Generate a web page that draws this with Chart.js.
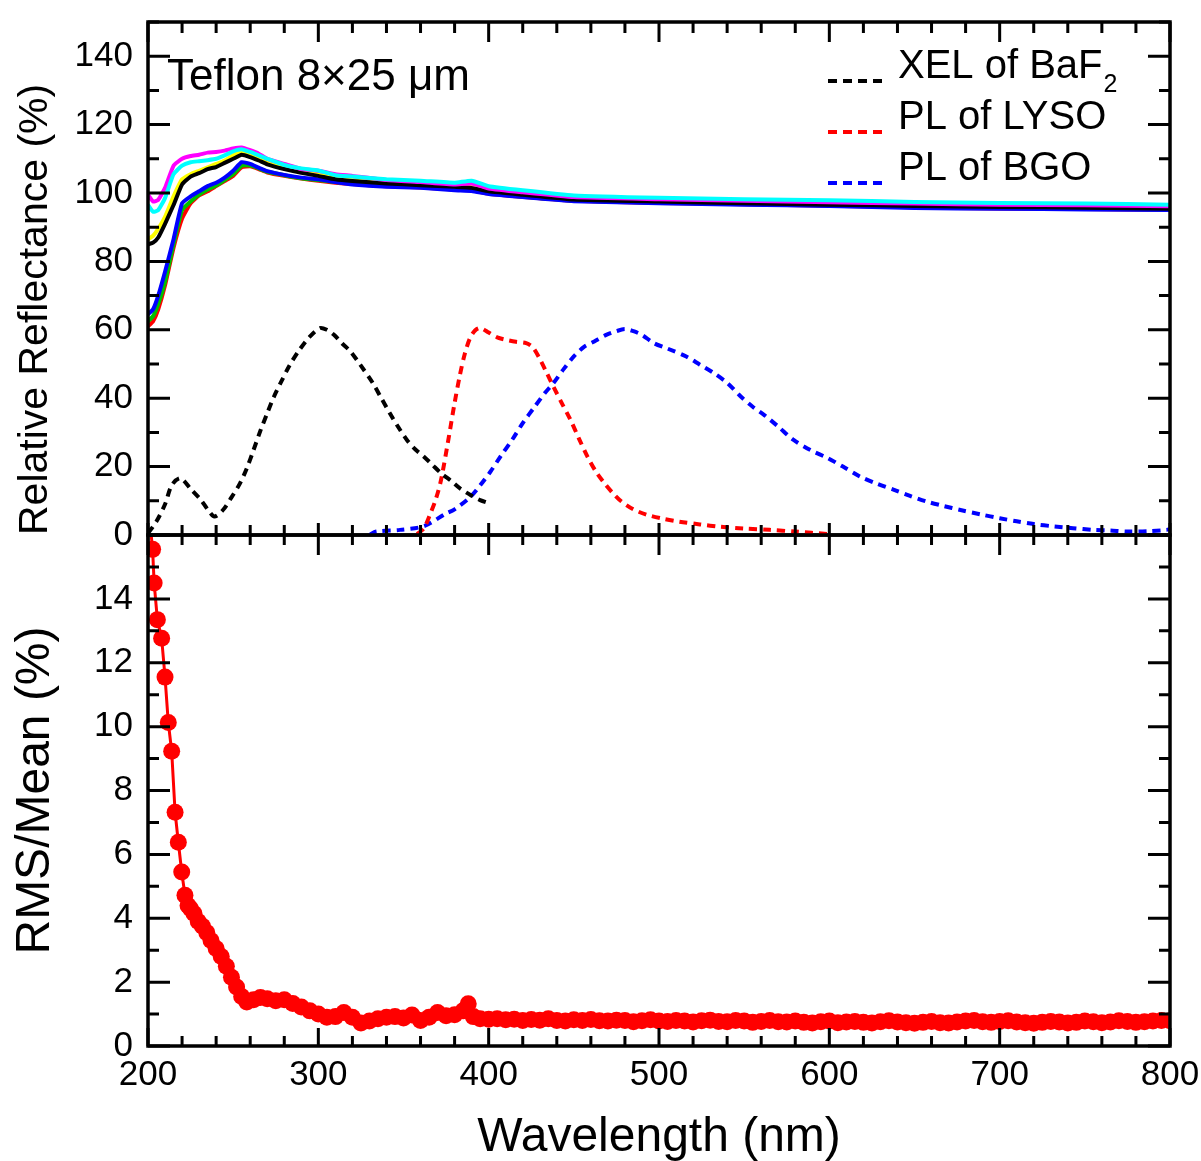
<!DOCTYPE html>
<html>
<head>
<meta charset="utf-8">
<script src="https://cdn.jsdelivr.net/npm/chart.js@4.4.1/dist/chart.umd.min.js"></script>
<style>
  body { margin: 0; background: #fff; }
  #wrap { position: relative; width: 1201px; height: 1161px; }
  #wrap canvas { position: absolute; left: 0; top: 0; }
</style>
</head>
<body>
<div id="wrap">
  <canvas id="rmsChart" width="1201" height="1161"></canvas>
  <canvas id="reflChart" width="1201" height="1161"></canvas>
</div>
<script>
// Tick labels
const xTicks = [200, 300, 400, 500, 600, 700, 800];
const reflTicks = [0, 20, 40, 60, 80, 100, 120, 140];
const rmsTicks = [0, 2, 4, 6, 8, 10, 12, 14];

// Reflectance curves (top panel), wavelength in nm
const reflWl = [200, 203, 206, 210, 215, 220, 225, 230, 235, 240, 245, 250, 255, 260, 265, 270, 280, 290, 300, 310, 320, 340, 360, 380, 390, 400, 420, 450, 500, 550, 600, 650, 700, 750, 800];
const reflCyan    = [96.5, 94.5, 95.0, 98.5, 105.5, 108.0, 109.0, 109.3, 109.6, 110.0, 111.0, 112.2, 112.8, 112.0, 111.0, 110.0, 108.2, 107.2, 106.6, 105.2, 104.8, 104.0, 103.6, 103.0, 103.6, 102.0, 100.8, 99.3, 98.6, 98.2, 97.9, 97.4, 97.1, 96.9, 96.6];
const reflMagenta = [99.5, 97.5, 98.0, 101.5, 108.0, 110.0, 110.8, 111.2, 111.8, 112.0, 112.4, 113.0, 113.3, 112.5, 111.5, 110.0, 108.5, 107.0, 106.5, 105.5, 105.0, 103.8, 103.2, 102.5, 102.8, 101.3, 100.2, 98.8, 98.2, 97.7, 97.3, 96.9, 96.6, 96.4, 96.1];
const reflYellow  = [86.5, 87.5, 89.5, 93.0, 99.0, 104.0, 105.5, 106.5, 107.5, 108.5, 109.5, 111.0, 112.0, 111.2, 110.2, 109.0, 107.5, 106.5, 105.8, 105.0, 104.5, 103.5, 103.0, 102.5, 102.6, 101.0, 100.0, 98.5, 97.9, 97.4, 97.1, 96.7, 96.4, 96.2, 95.9];
const reflBlack   = [85.0, 85.5, 87.0, 91.0, 96.5, 102.5, 104.8, 105.8, 107.0, 107.6, 108.8, 110.0, 111.2, 110.5, 109.5, 108.4, 107.0, 105.9, 105.0, 104.0, 103.5, 102.8, 102.3, 101.8, 101.5, 100.5, 99.5, 98.1, 97.5, 97.0, 96.6, 96.2, 95.9, 95.7, 95.4];
const reflGreen   = [62.5, 64.0, 67.5, 74.0, 85.0, 95.0, 97.5, 99.5, 101.0, 102.2, 103.8, 105.5, 108.0, 108.0, 107.2, 106.2, 105.2, 104.3, 103.8, 103.2, 102.8, 102.2, 101.8, 101.2, 101.0, 100.0, 99.0, 97.8, 97.2, 96.8, 96.4, 96.0, 95.7, 95.4, 95.2];
const reflBlue    = [64.5, 66.0, 70.0, 77.0, 86.5, 97.0, 99.0, 100.5, 102.0, 103.0, 104.5, 106.5, 109.0, 108.5, 107.4, 106.4, 105.3, 104.5, 104.0, 103.2, 102.5, 101.8, 101.5, 100.8, 100.6, 99.7, 98.8, 97.6, 97.0, 96.6, 96.2, 95.6, 95.4, 95.2, 95.0];
const reflRed     = [61.0, 62.5, 66.0, 73.0, 84.0, 92.5, 97.0, 99.3, 100.5, 102.0, 103.5, 105.0, 107.5, 107.8, 107.0, 106.0, 105.0, 104.2, 103.6, 103.0, 102.6, 102.0, 101.6, 101.0, 100.8, 99.8, 98.9, 97.7, 97.1, 96.7, 96.3, 95.8, 95.5, 95.3, 95.1];

// Emission spectra (normalised to ~60), dashed
const bafWl  = [200, 205, 210, 214, 219, 225, 231, 235, 239, 244, 249, 254, 258, 262, 266, 270, 274, 278, 283, 289, 295, 301, 305, 309, 314, 319, 325, 332, 337, 342, 347, 352, 357, 362, 367, 372, 378, 383, 390, 395, 400];
const bafVal = [0.5, 4.0, 9.0, 14.6, 16.6, 13.5, 10.3, 7.5, 5.4, 7.3, 11.0, 15.1, 19.5, 24.9, 30.5, 35.6, 40.5, 44.6, 49.5, 54.2, 58.0, 60.5, 60.0, 58.6, 56.0, 53.6, 49.5, 44.4, 40.0, 35.6, 31.5, 27.8, 25.0, 22.9, 20.5, 18.1, 15.8, 13.7, 11.5, 10.2, 9.3];
const lysoWl  = [358, 362, 366, 369, 372, 376, 380, 383, 386, 389, 392, 395, 400, 405, 410, 416, 422, 426, 430, 434, 438, 443, 448, 453, 458, 463, 468, 473, 478, 485, 493, 502, 512, 524, 536, 550, 565, 580, 599];
const lysoVal = [0.3, 2.0, 6.5, 10.5, 16.0, 26.9, 38.6, 46.5, 53.0, 57.5, 59.8, 60.5, 59.2, 57.8, 57.1, 56.5, 56.1, 54.8, 51.5, 47.5, 43.4, 38.5, 33.7, 28.2, 22.9, 18.5, 15.1, 12.2, 9.8, 7.5, 5.9, 4.8, 3.9, 3.1, 2.4, 1.9, 1.5, 1.0, 0.3];
const bgoWl  = [330, 334, 348, 362, 375, 380, 389, 395, 401, 407, 414, 420, 427, 433, 438, 444, 450, 456, 462, 469, 475, 480, 485, 490, 497, 505, 516, 524, 532, 540, 548, 555, 562, 570, 579, 589, 599, 608, 618, 628, 638, 647, 657, 667, 677, 689, 700, 710, 720, 732, 743, 755, 765, 775, 787, 798, 800];
const bgoVal = [0.0, 1.0, 1.5, 2.6, 6.3, 7.5, 11.0, 14.5, 18.5, 23.0, 28.0, 32.7, 37.5, 41.5, 44.4, 48.5, 52.2, 55.0, 56.6, 58.5, 59.6, 60.2, 59.6, 58.5, 56.1, 54.5, 52.2, 49.8, 47.4, 44.5, 40.5, 37.5, 35.0, 31.7, 27.8, 24.8, 22.5, 20.0, 17.1, 15.0, 13.2, 11.5, 9.8, 8.5, 7.3, 6.0, 4.9, 4.0, 3.2, 2.5, 2.0, 1.5, 1.3, 1.0, 1.1, 1.5, 1.7];

// RMS/Mean (bottom panel)
const rmsWl = [201.5, 202.7, 203.6, 205.5, 208, 210, 211.9, 213.9, 215.9, 217.8, 219.8, 221.7, 223.5, 225, 227, 229.5, 232, 234.5, 237, 240, 243, 246, 249, 252, 255, 258, 262, 266, 270, 275, 280, 285, 290, 295, 300, 305, 310, 315, 320, 325, 330, 335, 340, 345, 350, 355, 360, 365, 370, 375, 380, 385, 388, 391, 395, 400,
  405, 410, 415, 420, 425, 430, 435, 440, 445, 450, 455, 460, 465, 470, 475, 480, 485, 490, 495, 500,
  505, 510, 515, 520, 525, 530, 535, 540, 545, 550, 555, 560, 565, 570, 575, 580, 585, 590, 595, 600,
  605, 610, 615, 620, 625, 630, 635, 640, 645, 650, 655, 660, 665, 670, 675, 680, 685, 690, 695, 700,
  705, 710, 715, 720, 725, 730, 735, 740, 745, 750, 755, 760, 765, 770, 775, 780, 785, 790, 795, 800];
const rmsVal = [16.2, 15.55, 14.5, 13.35, 12.77, 11.55, 10.13, 9.23, 7.32, 6.38, 5.45, 4.72, 4.4, 4.3, 4.15, 3.9, 3.75, 3.55, 3.3, 3.05, 2.8, 2.5, 2.15, 1.85, 1.55, 1.38, 1.45, 1.52, 1.48, 1.42, 1.45, 1.33, 1.22, 1.1, 1.0, 0.9, 0.92, 1.05, 0.9, 0.72, 0.78, 0.85, 0.9, 0.92, 0.88, 0.97, 0.8, 0.9, 1.05, 0.95, 0.98, 1.1, 1.32, 0.92, 0.85, 0.84,
  0.85, 0.82, 0.84, 0.80, 0.83, 0.81, 0.85, 0.80, 0.78, 0.82, 0.80, 0.83, 0.79, 0.78, 0.81, 0.80, 0.76, 0.79, 0.82, 0.78,
  0.77, 0.80, 0.78, 0.75, 0.79, 0.81, 0.77, 0.76, 0.80, 0.78, 0.74, 0.77, 0.80, 0.76, 0.75, 0.78, 0.74, 0.72, 0.76, 0.78,
  0.73, 0.75, 0.77, 0.74, 0.72, 0.76, 0.79, 0.75, 0.73, 0.71, 0.74, 0.77, 0.73, 0.72, 0.75, 0.78, 0.80, 0.76, 0.74, 0.77,
  0.79, 0.75, 0.73, 0.71, 0.74, 0.77, 0.75, 0.72, 0.74, 0.78, 0.76, 0.73, 0.75, 0.79, 0.77, 0.74, 0.76, 0.78, 0.80, 0.79];

const FONT = "'Liberation Sans', Arial, sans-serif";

function pts(xs, ys) {
    return xs.map((x, i) => ({ x: x, y: ys[i] }));
}

// Achsen fest einstellen, damit der Plotbereich genau sitzt
function fixWidth(w) {
    return function(s) { s.width = w; s.paddingTop = 0; s.paddingBottom = 0; };
}
function fixHeight(h) {
    return function(s) { s.height = h; s.paddingLeft = 0; s.paddingRight = 0; };
}
function useTicks(values) {
    return function(s) { s.ticks = values.map(v => ({ value: v })); };
}

// Rahmen und nach innen zeigende Ticks (Haupt- und Nebenticks)
const frameTicks = {
    id: 'frameTicks',
    afterDraw(chart, args, o) {
        const { ctx, chartArea: a, scales } = chart;
        const sx = scales.x, sy = scales.y;
        ctx.save();
        ctx.strokeStyle = '#000';
        ctx.lineWidth = 3;
        ctx.beginPath();
        for (let v = sx.min; v <= sx.max + 1e-6; v += o.xMinor) {
            const px = sx.getPixelForValue(v);
            const major = Math.abs(v / o.xMajor - Math.round(v / o.xMajor)) < 1e-6;
            const t = major ? o.topLen[1] : o.topLen[0];
            const b = major ? o.bottomLen[1] : o.bottomLen[0];
            ctx.moveTo(px, a.top); ctx.lineTo(px, a.top + t);
            ctx.moveTo(px, a.bottom); ctx.lineTo(px, a.bottom - b);
        }
        for (let v = sy.min; v <= sy.max + 1e-6; v += o.yMinor) {
            const py = sy.getPixelForValue(v);
            const major = Math.abs(v / o.yMajor - Math.round(v / o.yMajor)) < 1e-6;
            const l = major ? o.sideLen[1] : o.sideLen[0];
            ctx.moveTo(a.left, py); ctx.lineTo(a.left + l, py);
            ctx.moveTo(a.right, py); ctx.lineTo(a.right - l, py);
        }
        ctx.stroke();
        ctx.lineWidth = 3.5;
        ctx.strokeRect(a.left, a.top, a.right - a.left, a.bottom - a.top);
        ctx.restore();
    }
};

// Beschriftung im Plot: Probenname und Legende der Emissionsspektren
const panelText = {
    id: 'panelText',
    afterDraw(chart) {
        const ctx = chart.ctx;
        ctx.save();
        ctx.fillStyle = '#000';
        ctx.font = '44px ' + FONT;
        ctx.textBaseline = 'alphabetic';
        ctx.textAlign = 'left';
        ctx.fillText('Teflon 8\u00d725 \u03bcm', 167, 90);

        const rows = chart.data.datasets.filter(d => d.legendText);
        rows.forEach((d, i) => {
            const base = 78 + i * 51;
            ctx.save();
            ctx.strokeStyle = d.borderColor;
            ctx.lineWidth = 4;
            ctx.setLineDash([9, 6]);
            ctx.beginPath();
            ctx.moveTo(828, base + 3);
            ctx.lineTo(882, base + 3);
            ctx.stroke();
            ctx.restore();
            ctx.font = '40px ' + FONT;
            ctx.fillText(d.legendText, 898, base);
            if (d.legendSub) {
                const w = ctx.measureText(d.legendText).width;
                ctx.font = '25px ' + FONT;
                ctx.fillText(d.legendSub, 898 + w + 1, base + 14);
            }
        });
        ctx.restore();
    }
};

function solid(label, color, ys) {
    return {
        label: label,
        data: pts(reflWl, ys),
        borderColor: color,
        borderWidth: 4,
        pointRadius: 0,
        tension: 0.15
    };
}

function dashed(label, color, xs, ys, text, sub) {
    return {
        label: label,
        data: pts(xs, ys),
        borderColor: color,
        borderWidth: 4,
        borderDash: [8, 6],
        pointRadius: 0,
        tension: 0.3,
        legendText: text,
        legendSub: sub
    };
}

const tickFont = { family: FONT, size: 35 };

new Chart(document.getElementById('reflChart'), {
    type: 'line',
    data: {
        datasets: [
            dashed('XEL of BaF2', '#000000', bafWl, bafVal, 'XEL of BaF', '2'),
            dashed('PL of LYSO', '#ff0000', lysoWl, lysoVal, 'PL of LYSO'),
            dashed('PL of BGO', '#0000ff', bgoWl, bgoVal, 'PL of BGO'),
            solid('Sample 1', '#00ffff', reflCyan),
            solid('Sample 2', '#ff00ff', reflMagenta),
            solid('Sample 3', '#000000', reflBlack),
            solid('Sample 4', '#ffff00', reflYellow),
            solid('Sample 5', '#0000ff', reflBlue),
            solid('Sample 6', '#00c000', reflGreen),
            solid('Sample 7', '#ff0000', reflRed)
        ]
    },
    options: {
        responsive: false,
        animation: false,
        layout: { padding: { left: 0, right: 31, top: 22, bottom: 626 } },
        plugins: {
            legend: { display: false },
            tooltip: { enabled: false },
            frameTicks: { xMinor: 20, xMajor: 100, yMinor: 10, yMajor: 20, topLen: [11, 20], bottomLen: [10, 12], sideLen: [11, 22] }
        },
        scales: {
            x: { type: 'linear', min: 200, max: 800, display: false },
            y: {
                type: 'linear', min: 0, max: 150,
                afterBuildTicks: useTicks(reflTicks),
                afterFit: fixWidth(148),
                grid: { display: false },
                border: { display: false },
                ticks: { autoSkip: false, padding: 7, color: '#000', font: tickFont },
                title: {
                    display: true, text: 'Relative Reflectance (%)', align: 'start', color: '#000',
                    font: { family: FONT, size: 41 }, padding: { top: 11, bottom: 0 }
                }
            }
        }
    },
    plugins: [frameTicks, panelText]
});

new Chart(document.getElementById('rmsChart'), {
    type: 'line',
    data: {
        datasets: [{
            label: 'RMS/Mean',
            data: pts(rmsWl, rmsVal),
            borderColor: '#ff0000',
            backgroundColor: '#ff0000',
            borderWidth: 3,
            pointRadius: 8.5,
            pointBorderWidth: 0,
            pointBackgroundColor: '#ff0000'
        }]
    },
    options: {
        responsive: false,
        animation: false,
        layout: { padding: { left: 0, right: 31, top: 535, bottom: 0 } },
        plugins: {
            legend: { display: false },
            tooltip: { enabled: false },
            frameTicks: { xMinor: 20, xMajor: 100, yMinor: 1, yMajor: 2, topLen: [10, 20], bottomLen: [10, 18], sideLen: [11, 22] }
        },
        scales: {
            x: {
                type: 'linear', min: 200, max: 800,
                afterBuildTicks: useTicks(xTicks),
                afterFit: fixHeight(115),
                grid: { display: false },
                border: { display: false },
                ticks: { autoSkip: false, padding: 0, color: '#000', font: tickFont, maxRotation: 0 },
                title: {
                    display: true, text: 'Wavelength (nm)', color: '#000',
                    font: { family: FONT, size: 48 }, padding: { top: 0, bottom: -6 }
                }
            },
            y: {
                type: 'linear', min: 0, max: 16,
                afterBuildTicks: useTicks(rmsTicks),
                afterFit: fixWidth(148),
                grid: { display: false },
                border: { display: false },
                ticks: { autoSkip: false, padding: 7, color: '#000', font: tickFont },
                title: {
                    display: true, text: 'RMS/Mean (%)', color: '#000',
                    font: { family: FONT, size: 48 }, padding: { top: 7, bottom: 0 }
                }
            }
        }
    },
    plugins: [frameTicks]
});
</script>
</body>
</html>
